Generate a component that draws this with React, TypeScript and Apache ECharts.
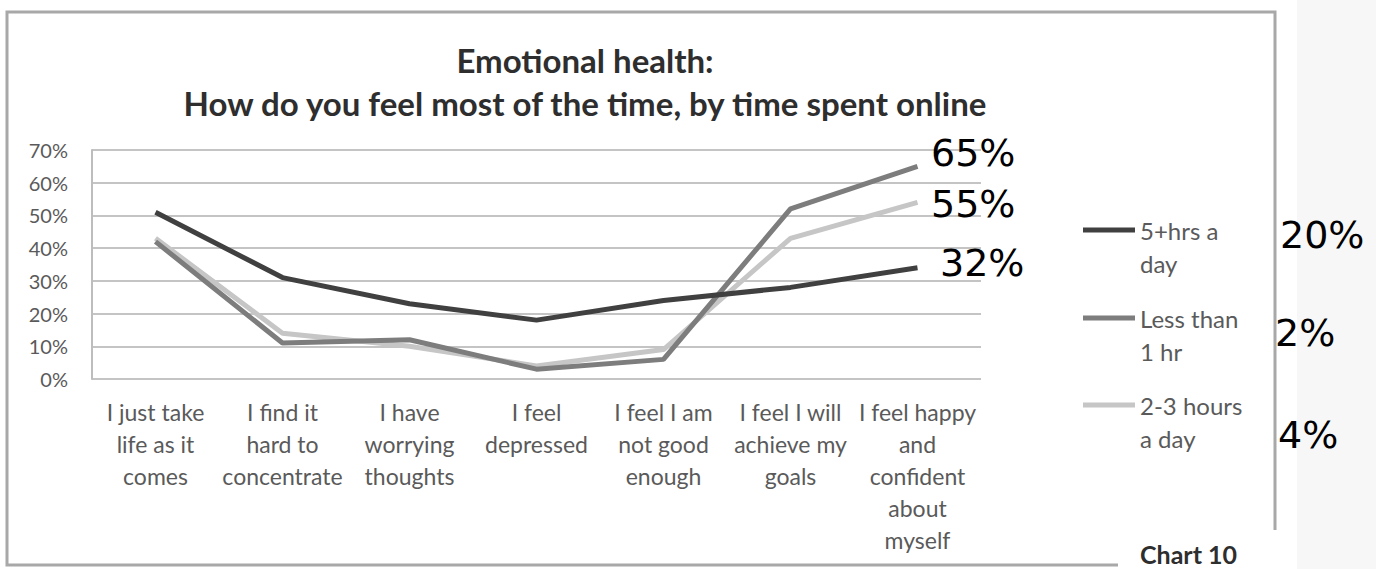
import React, { useEffect, useRef } from "react";
import * as echarts from "echarts";

const categories = [
  "I just take\nlife as it\ncomes",
  "I find it\nhard to\nconcentrate",
  "I have\nworrying\nthoughts",
  "I feel\ndepressed",
  "I feel I am\nnot good\nenough",
  "I feel I will\nachieve my\ngoals",
  "I feel happy\nand\nconfident\nabout\nmyself",
];
const seriesNames = ["5+hrs a day", "Less than 1 hr", "2-3 hours a day"];
const legendLabels = ["5+hrs a\nday", "Less than\n1 hr", "2-3 hours\na day"];
const fivePlusHrs = [51, 31, 23, 18, 24, 28, 34];
const lessThan1Hr = [42, 11, 12, 3, 6, 52, 65];
const twoToThreeHrs = [43, 14, 10, 4, 9, 43, 54];
const yTicks = { min: 0, max: 70, interval: 10 };
const annotations = [
  { text: "65%", x: 931, y: 153 },
  { text: "55%", x: 931, y: 204 },
  { text: "32%", x: 940, y: 263 },
  { text: "20%", x: 1280, y: 235 },
  { text: "2%", x: 1275, y: 333 },
  { text: "4%", x: 1278, y: 435 },
];

const colors = ["#404040", "#7d7d7d", "#c6c6c6"];
const FONT = "Lato, 'Open Sans', sans-serif";

export default function App() {
  const ref = useRef<HTMLDivElement>(null);
  useEffect(() => {
    if (!ref.current) return;
    const chart = echarts.init(ref.current, null, { renderer: "svg" });
    const data = [fivePlusHrs, lessThan1Hr, twoToThreeHrs];
    const legendTops = [230, 318, 405];
    chart.setOption({
      animation: false,
      backgroundColor: "#ffffff",
      title: {
        text: "Emotional health:\nHow do you feel most of the time, by time spent online",
        left: 585,
        top: 38,
        textAlign: "center",
        padding: 0,
        textStyle: {
          fontFamily: FONT,
          fontWeight: "bold",
          fontSize: 33,
          lineHeight: 43,
          color: "#2e2e2e",
        },
      },
      legend: seriesNames.map((n, i) => ({
        data: [n],
        orient: "vertical",
        left: 1083,
        top: legendTops[i] - 49.5,
        padding: 0,
        itemWidth: 52,
        itemHeight: 5,
        icon: "rect",
        selectedMode: false,
        formatter: () => " \n" + legendLabels[i],
        textStyle: {
          fontFamily: FONT,
          fontSize: 24,
          lineHeight: 33,
          color: "#5a5a5a",
        },
      })),
      grid: { left: 92, right: 400, top: 150, bottom: 190, containLabel: false },
      xAxis: {
        type: "category",
        data: categories,
        boundaryGap: true,
        axisLine: { show: false },
        axisTick: { show: false },
        axisLabel: {
          interval: 0,
          margin: 17,
          fontFamily: FONT,
          fontSize: 23,
          lineHeight: 32,
          color: "#5a5a5a",
        },
      },
      yAxis: {
        type: "value",
        min: yTicks.min,
        max: yTicks.max,
        interval: yTicks.interval,
        axisLine: { show: true, lineStyle: { color: "#bdbdbd", width: 2 } },
        axisTick: { show: false },
        axisLabel: {
          formatter: "{value}%",
          margin: 24,
          fontFamily: FONT,
          fontSize: 20,
          color: "#5a5a5a",
        },
        splitLine: { lineStyle: { color: "#c4c4c4", width: 2 } },
      },
      series: seriesNames.map((n, i) => ({
        name: n,
        type: "line",
        data: data[i],
        symbol: "none",
        lineStyle: { color: colors[i], width: 5 },
        itemStyle: { color: colors[i] },
        z: 3 - i,
      })),
      graphic: [
        {
          type: "rect",
          shape: { x: 1297, y: 0, width: 79, height: 569 },
          style: { fill: "#f7f7f7" },
          silent: true,
        },
        {
          type: "polyline",
          shape: {
            points: [
              [1275, 530],
              [1275, 12],
              [7, 12],
              [7, 565],
              [1118, 565],
            ],
          },
          style: { stroke: "#a8a8a8", lineWidth: 3, fill: "none" },
          silent: true,
        },
        {
          type: "text",
          x: 1140,
          y: 554,
          style: {
            text: "Chart 10",
            fontFamily: FONT,
            fontWeight: "bold",
            fontSize: 25,
            fill: "#2e2e2e",
            verticalAlign: "middle",
          },
        },
        ...annotations.map((a) => ({
          type: "text",
          x: a.x,
          y: a.y,
          z: 100,
          style: {
            text: a.text,
            fontFamily: "'DejaVu Sans', sans-serif",
            fontSize: 38,
            fill: "#000000",
            verticalAlign: "middle",
          },
        })),
      ],
    });
    return () => chart.dispose();
  }, []);
  return (
    <div
      ref={ref}
      style={{ position: "absolute", left: 0, top: 0, width: 1381, height: 569 }}
    />
  );
}
